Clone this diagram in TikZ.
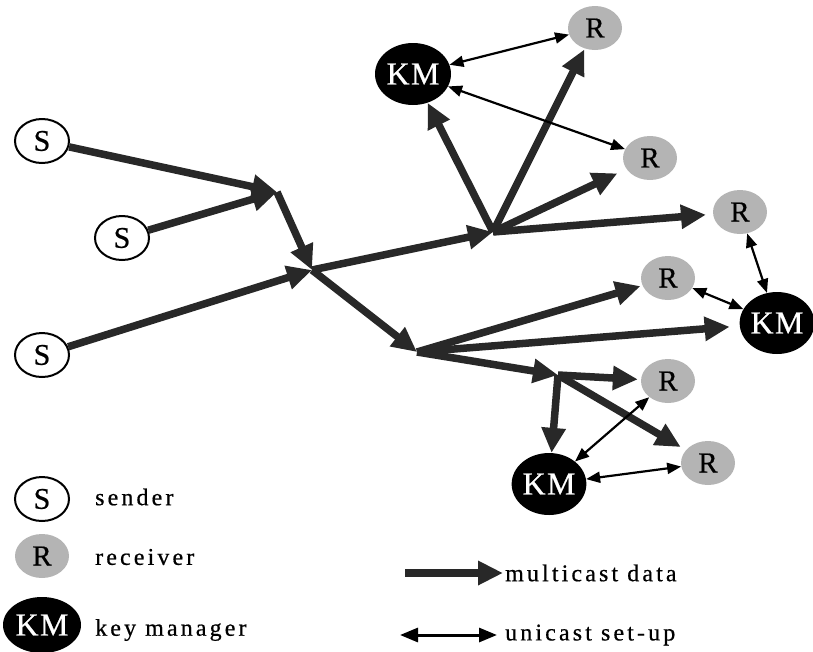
\documentclass[tikz,border=0pt]{standalone}
\usepackage{fontspec}
\setmainfont{Liberation Serif}
\newfontfamily\lblfont{Liberation Serif}[LetterSpace=13,FakeBold=0.6]
\newfontfamily\nodefont{Liberation Serif}[LetterSpace=4,FakeBold=0.6]
\usetikzlibrary{arrows.meta,shapes.geometric}
\definecolor{arr}{RGB}{40,40,40}
\definecolor{rgray}{RGB}{180,180,180}
\tikzset{
 sender/.style={ellipse,draw=black,line width=2pt,fill=white,minimum width=54pt,minimum height=44pt,inner sep=0pt,font=\nodefont\fontsize{30}{32}\selectfont},
 receiver/.style={ellipse,fill=rgray,minimum width=54pt,minimum height=44pt,inner sep=0pt,font=\nodefont\fontsize{29}{32}\selectfont},
 keyman/.style={ellipse,fill=black,text=white,minimum width=76pt,minimum height=62pt,inner sep=0pt,font=\nodefont\fontsize{32}{34}\selectfont},
 mc/.style={draw=arr,line width=7.5pt,-{Triangle[length=25pt,width=23pt]}},
 uc/.style={draw=black,line width=2.2pt,{Triangle[length=14pt,width=11pt]}-{Triangle[length=14pt,width=11pt]}},
 uclegend/.style={draw=black,line width=3pt,{Triangle[length=18pt,width=14pt]}-{Triangle[length=18pt,width=14pt]}},
 lbl/.style={anchor=west,inner sep=0pt,font=\lblfont\fontsize{24}{28}\selectfont},
}
\begin{document}
\begin{tikzpicture}[x=1pt,y=-1pt]
\useasboundingbox (0,0) rectangle (813,651);
% junctions
\coordinate (J1) at (277,192);
\coordinate (J2) at (312,270);
\coordinate (J3) at (493,232);
\coordinate (J4) at (417,352);
\coordinate (J5) at (558,375);
% nodes
\node[sender] (S1) at (42,141) {S};
\node[sender] (S2) at (122,238) {S};
\node[sender] (S3) at (42,355) {S};
\node[keyman] (KM1) at (413,74) {KM};
\node[receiver] (R1) at (595,28) {R};
\node[receiver] (R2) at (650,158) {R};
\node[receiver] (R3) at (740,212) {R};
\node[receiver] (R4) at (668,278) {R};
\node[keyman, minimum width=72pt] (KM2) at (777,323) {KM};
\node[receiver] (R5) at (668,381) {R};
\node[receiver] (R6) at (708,463) {R};
\node[keyman, minimum width=74pt] (KM3) at (549,484) {KM};
% multicast data
\draw[mc] (S1) -- (J1);
\draw[mc] (S2) -- (J1);
\draw[mc] (J1) -- (J2);
\draw[mc] (S3) -- (J2);
\draw[mc] (J2) -- (J3);
\draw[mc] (J2) -- (J4);
\draw[mc] (J3) -- (KM1);
\draw[mc, shorten >=1pt] (J3) -- (R1);
\draw[mc, shorten >=10pt] (J3) -- (R2);
\draw[mc, shorten >=7pt] (J3) -- (R3);
\draw[mc, shorten >=2pt] (J4) -- (R4);
\draw[mc, shorten >=10pt] (J4) -- (KM2);
\draw[mc] (J4) -- (J5);
\draw[mc, shorten >=3pt] (J5) -- (R5);
\draw[mc] (J5) -- (KM3);
\draw[mc, shorten >=6pt] (J5) -- (R6);
% unicast set-up
\draw[uc] (KM1) -- (R1);
\draw[uc] (KM1) -- (R2);
\draw[uc] (R3) -- (KM2);
\draw[uc] (R4) -- (KM2);
\draw[uc] (KM3) -- (R5);
\draw[uc] (KM3) -- (R6);
% legend
\node[sender] (LS) at (42,499) {S};
\node[receiver] (LR) at (42,556) {R};
\node[keyman, minimum width=78pt, minimum height=56pt] (LKM) at (42,625) {KM};
\node[lbl] (tS) at (95,497) {sender};
\node[lbl] (tR) at (95,557) {receiver};
\node[lbl] (tKM) at (95,630) {key manager};
\coordinate (mcA) at (405,573);
\node[lbl] (tmc) at (505,573) {multicast data};
\draw[mc] (mcA) -- ([xshift=-2pt]tmc.west);
\coordinate (ucA) at (400,635);
\node[lbl] (tuc) at (505,635) {unicast set-up};
\draw[uclegend] (ucA) -- ([xshift=-8pt]tuc.west);
\end{tikzpicture}
\end{document}
